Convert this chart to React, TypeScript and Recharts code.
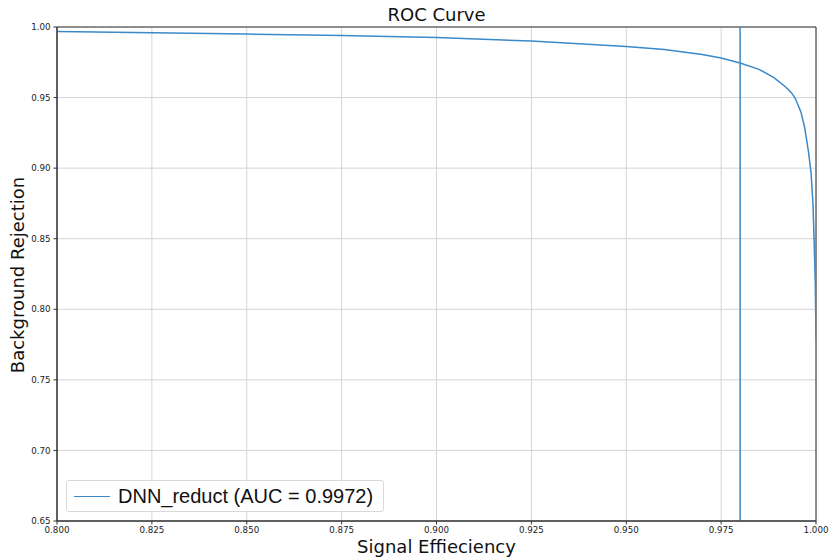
import React from 'react';
import {
  LineChart,
  Line,
  XAxis,
  YAxis,
  CartesianGrid,
  ReferenceLine,
  ReferenceArea,
} from 'recharts';

// signal efficiency / background rejection
const signalEff = [
  0.8, 0.825, 0.85, 0.875, 0.9, 0.925, 0.95, 0.96, 0.97, 0.975, 0.98, 0.985,
  0.989, 0.992, 0.9935, 0.9945, 0.996, 0.997, 0.998, 0.9987, 0.9992, 0.9995, 0.9998, 1.0,
];
const bkgRejection = [
  0.9968, 0.996, 0.995, 0.994, 0.9925, 0.99, 0.9862, 0.984, 0.9805, 0.978, 0.9745, 0.97,
  0.964, 0.9575, 0.9535, 0.9497, 0.94, 0.929, 0.912, 0.8966, 0.875, 0.849, 0.82, 0.78,
];
const xTicks = [0.8, 0.825, 0.85, 0.875, 0.9, 0.925, 0.95, 0.975, 1.0];
const yTicks = [0.65, 0.7, 0.75, 0.8, 0.85, 0.9, 0.95, 1.0];
const cutValue = 0.98;
const seriesName = 'DNN_reduct (AUC = 0.9972)';

const data = signalEff.map((x, i) => ({ x, y: bkgRejection[i] }));

const BLUE = '#3a89c9';
const FONT = '"DejaVu Sans", sans-serif';
const tickStyle = { fontSize: 8.7, fill: '#222', fontFamily: FONT };

const LegendBox = () => (
  <div
    style={{
      position: 'absolute',
      left: 66,
      top: 480,
      width: 316,
      height: 30,
      border: '1px solid #d9d9d9',
      borderRadius: 3,
      background: 'rgba(255,255,255,0.8)',
      display: 'flex',
      alignItems: 'center',
      fontFamily: '"Liberation Sans", Arial, sans-serif',
      fontSize: 20,
      color: '#111',
    }}
  >
    <span style={{ display: 'inline-block', width: 36, height: 0, borderTop: `1.5px solid ${BLUE}`, marginLeft: 7, marginRight: 8 }} />
    <span>{seriesName}</span>
  </div>
);

export default function App() {
  return (
    <div style={{ position: 'relative', width: 829, height: 558, background: '#fff' }}>
      <style>{'body{margin:0}'}</style>
      <div
        style={{
          position: 'absolute',
          left: 57,
          width: 759,
          top: 4,
          textAlign: 'center',
          fontFamily: FONT,
          fontSize: 18,
          color: '#111',
        }}
      >
        ROC Curve
      </div>
      <div
        style={{
          position: 'absolute',
          left: 57,
          width: 759,
          top: 536,
          textAlign: 'center',
          fontFamily: FONT,
          fontSize: 18,
          color: '#111',
        }}
      >
        Signal Effieciency
      </div>
      <div
        style={{
          position: 'absolute',
          left: 17,
          top: 275,
          transform: 'translate(-50%, -50%) rotate(-90deg)',
          whiteSpace: 'nowrap',
          fontFamily: FONT,
          fontSize: 18,
          color: '#111',
        }}
      >
        Background Rejection
      </div>
      <LineChart
        width={829}
        height={558}
        data={data}
        margin={{ top: 27, right: 13, left: 0, bottom: 0 }}
        style={{ position: 'absolute', left: 0, top: 0 }}
      >
        <CartesianGrid stroke="#d4d4d4" strokeWidth={1} />
        <XAxis
          dataKey="x"
          type="number"
          domain={[0.8, 1.0]}
          ticks={xTicks}
          tickFormatter={(v: number) => v.toFixed(3)}
          tick={tickStyle}
          tickSize={3.5}
          tickMargin={2}
          height={37}
          stroke="#333"
          allowDataOverflow
        />
        <YAxis
          dataKey="y"
          type="number"
          domain={[0.65, 1.0]}
          ticks={yTicks}
          tickFormatter={(v: number) => v.toFixed(2)}
          tick={tickStyle}
          tickSize={3.5}
          tickMargin={3}
          width={57}
          stroke="#333"
          allowDataOverflow
        />
        <ReferenceArea x1={0.8} x2={1.0} y1={0.65} y2={1.0} fill="none" stroke="#333" strokeWidth={1} />
        <ReferenceLine x={cutValue} stroke={BLUE} strokeWidth={1.5} />
        <Line
          type="linear"
          dataKey="y"
          name={seriesName}
          stroke={BLUE}
          strokeWidth={1.5}
          dot={false}
          isAnimationActive={false}
        />
      </LineChart>
      <LegendBox />
    </div>
  );
}
